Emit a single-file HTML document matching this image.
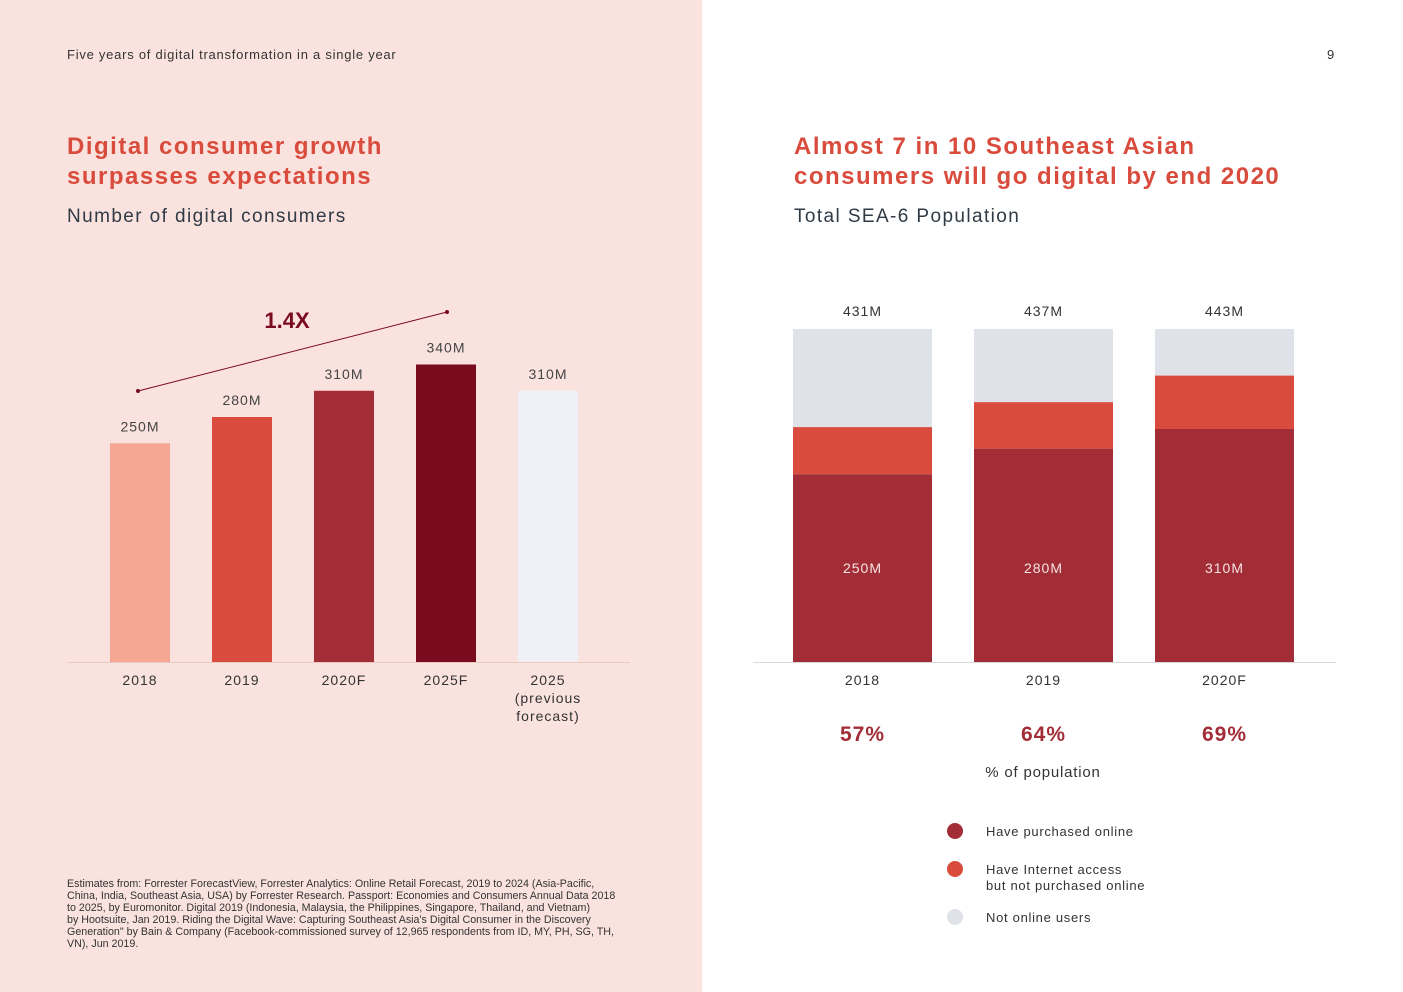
<!DOCTYPE html>
<html><head><meta charset="utf-8"><style>
body{margin:0;width:1403px;height:992px;position:relative;font-family:"Liberation Sans",sans-serif;overflow:hidden;background:#fff}
.l{position:absolute;left:0;top:0;width:702px;height:992px;background:#fae3df}
.t{position:absolute;white-space:nowrap}
.h{color:#d94c3d;font-weight:bold;font-size:24px;letter-spacing:1.5px;line-height:30px}
.s{color:#2f3a45;font-size:19px;letter-spacing:1.4px}
svg{position:absolute;left:0;top:0}
</style></head><body>
<div class="l"></div>
<div class="t" style="left:67px;top:47px;font-size:13px;color:#333;letter-spacing:.75px">Five years of digital transformation in a single year</div>
<div class="t" style="left:1327px;top:47px;font-size:13px;color:#333">9</div>
<div class="t h" style="left:67px;top:132px">Digital consumer growth<br>surpasses expectations</div>
<div class="t s" style="left:67px;top:206px">Number of digital consumers</div>
<div class="t h" style="left:794px;top:132px">Almost 7 in 10 Southeast Asian<br>consumers will go digital by end 2020</div>
<div class="t s" style="left:794px;top:206px">Total SEA-6 Population</div>
<div class="t" style="left:67px;top:878px;font-size:10.7px;line-height:12px;color:#333">Estimates from: Forrester ForecastView, Forrester Analytics: Online Retail Forecast, 2019 to 2024 (Asia-Pacific,<br>China, India, Southeast Asia, USA) by Forrester Research. Passport: Economies and Consumers Annual Data 2018<br>to 2025, by Euromonitor. Digital 2019 (Indonesia, Malaysia, the Philippines, Singapore, Thailand, and Vietnam)<br>by Hootsuite, Jan 2019. Riding the Digital Wave: Capturing Southeast Asia's Digital Consumer in the Discovery<br>Generation" by Bain &amp; Company (Facebook-commissioned survey of 12,965 respondents from ID, MY, PH, SG, TH,<br>VN), Jun 2019.</div>
<svg id="c" width="1403" height="992" font-family="Liberation Sans, sans-serif"></svg>
<script>
const leftCats=["2018","2019","2020F","2025F","2025"];
const leftVals=[250,280,310,340,310];
const leftLabels=["250M","280M","310M","340M","310M"];
const leftColors=["#f4a793","#d94c3d","#a32d37","#7a0a1e","#eff1f6"];
const rightCats=["2018","2019","2020F"];
const totals=[431,437,443];
const purchased=[243,280,310];
const internetOnly=[61,61,71];
const totalLabels=["431M","437M","443M"];
const purchasedLabels=["250M","280M","310M"];
const pctLabels=["57%","64%","69%"];
const S=document.getElementById('c');
function el(t,a,txt){const e=document.createElementNS('http://www.w3.org/2000/svg',t);for(const k in a)e.setAttribute(k,a[k]);if(txt!=null)e.textContent=txt;S.appendChild(e);return e;}
const base=662;
const ly=v=>base-v*0.875;
const lx=i=>110+i*102;
let e=el('line',{x1:67,x2:630,y1:662.5,y2:662.5,stroke:'#e8c9c4'});


leftVals.forEach((v,i)=>{
 let r=el('rect',{x:lx(i),y:ly(v),width:60,height:base-ly(v),fill:leftColors[i]});
 
 
 let t=el('text',{x:lx(i)+30,y:ly(v)-12,'text-anchor':'middle','font-size':14,fill:'#444','letter-spacing':1},leftLabels[i]);
 
 
 let c=el('text',{x:lx(i)+30,y:685,'text-anchor':'middle','font-size':14,fill:'#333','letter-spacing':1},leftCats[i]);
 
 
});
let sub=el('text',{x:lx(4)+30,y:703,'text-anchor':'middle','font-size':14,fill:'#333','letter-spacing':1},'(previous');


let sub2=el('text',{x:lx(4)+30,y:721,'text-anchor':'middle','font-size':14,fill:'#333','letter-spacing':1},'forecast)');


let gl=el('line',{x1:138,y1:391,x2:447,y2:312,stroke:'#7a0a1e','stroke-width':1});


el('circle',{cx:138,cy:391,r:2,fill:'#7a0a1e'});
el('circle',{cx:447,cy:312,r:2,fill:'#7a0a1e'});
let gt=el('text',{x:287,y:328,'text-anchor':'middle','font-size':22,'font-weight':'bold',fill:'#7a0a1e'},'1.4X');


const H=333;
const rx=i=>793+i*181;
let rb=el('line',{x1:753,x2:1336,y1:662.5,y2:662.5,stroke:'#d8d8d8'});


rightCats.forEach((c,i)=>{
 const sc=H/totals[i];
 const hp=purchased[i]*sc, hi=internetOnly[i]*sc;
 let a=el('rect',{x:rx(i),y:base-H,width:139,height:H-hp-hi,fill:'#dfe2e9'});
 
 
 let b=el('rect',{x:rx(i),y:base-hp-hi,width:139,height:hi,fill:'#d94c3d'});
 
 
 let d=el('rect',{x:rx(i),y:base-hp,width:139,height:hp,fill:'#a32d37'});
 
 
 let t=el('text',{x:rx(i)+69.5,y:316,'text-anchor':'middle','font-size':14,fill:'#333','letter-spacing':1},totalLabels[i]);
 
 
 let p=el('text',{x:rx(i)+69.5,y:573,'text-anchor':'middle','font-size':14,fill:'#f5e3e3','letter-spacing':1},purchasedLabels[i]);
 
 
 let x=el('text',{x:rx(i)+69.5,y:685,'text-anchor':'middle','font-size':14,fill:'#333','letter-spacing':1},c);
 
 
 let q=el('text',{x:rx(i)+69.5,y:741,'text-anchor':'middle','font-size':21,'font-weight':'bold',fill:'#a32d37','letter-spacing':1},pctLabels[i]);
 
 
});
let pp=el('text',{x:1043,y:777,'text-anchor':'middle','font-size':15,fill:'#333','letter-spacing':.8},'% of population');


const legend=[["#a32d37",831,["Have purchased online"]],["#d94c3d",869,["Have Internet access","but not purchased online"]],["#dfe2e9",917,["Not online users"]]];
legend.forEach(([col,y,lines])=>{
 let c=el('circle',{cx:955,cy:y,r:8,fill:col});
 
 
 lines.forEach((s,j)=>{
  let t=el('text',{x:986,y:y+5+j*16,'font-size':13,fill:'#333','letter-spacing':.7},s);
  
  
 });
});
</script>
</body></html>
